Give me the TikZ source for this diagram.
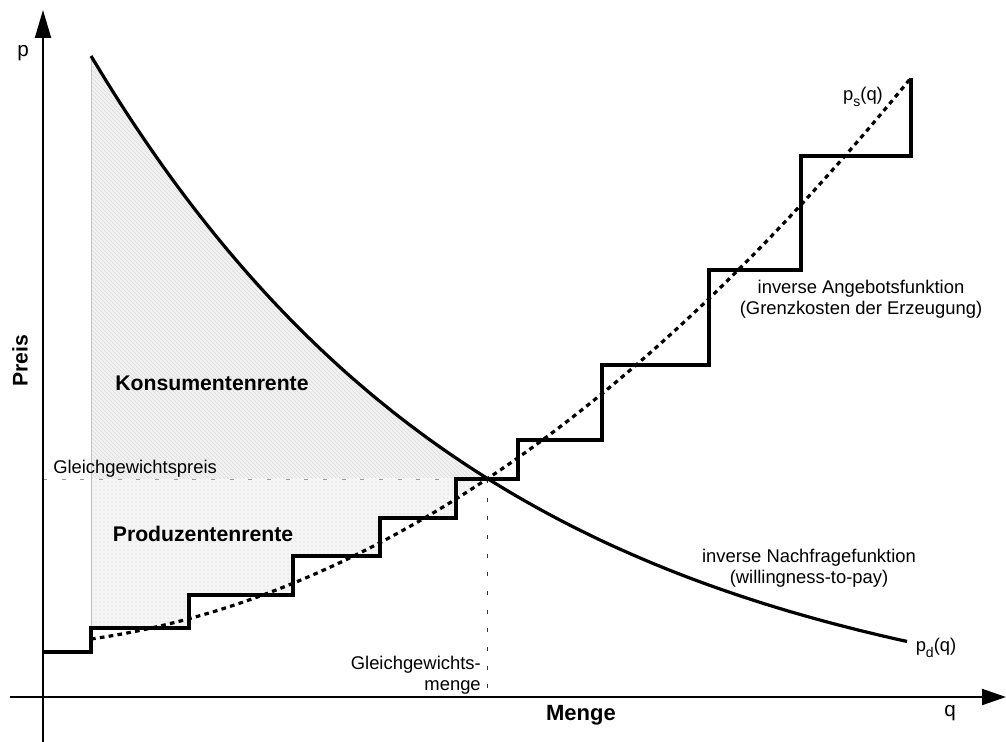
\documentclass[tikz,border=0pt]{standalone}
\usepackage{fontspec}
\setmainfont{Liberation Sans}
\usetikzlibrary{arrows.meta,patterns}
\newcommand{\lowsub}[1]{\raisebox{-0.55ex}{\fontsize{10.5}{10.5}\selectfont #1}}
\begin{document}
\begin{tikzpicture}[x=0.75pt,y=-0.75pt,
  axis/.style={line width=1.5pt},
  curve/.style={line width=2.4pt},
  lbl/.style={font=\fontsize{13.8}{15.5}\selectfont, inner sep=0pt, align=center},
  area/.style={font=\bfseries\fontsize{15.9}{18}\selectfont, inner sep=0pt},
  axlbl/.style={font=\fontsize{15.5}{17}\selectfont, inner sep=0pt},
  guide/.style={line width=0.7pt, dash pattern=on 3pt off 11pt},
  cssurplus/.style={fill=gray!10, postaction={pattern=north west lines, pattern color=gray!28}},
  pssurplus/.style={fill=gray!8, postaction={pattern=dots, pattern color=gray!38}},
]
\useasboundingbox (0,0) rectangle (1006,742);

% key points
\coordinate (E) at (487,479);
\coordinate (Pstar) at (43,479);
\coordinate (Qstar) at (487,697);

% consumer surplus: between demand curve and equilibrium price
\path[cssurplus] (91,479) -- plot[domain=91:487, samples=80] (\x, {730-674*exp(-0.002494*(\x-91))}) -- cycle;

% producer surplus: between equilibrium price and supply steps
\path[pssurplus] (91,479) -- (91,628) -- (189,628) -- (189,595) -- (293,595) -- (293,556)
  -- (380,556) -- (380,518) -- (456,518) -- (456,499) -- (E) -- cycle;
\draw[gray!50, line width=0.4pt] (91,56) -- (91,628);

% equilibrium guides
\draw[guide, gray!80] (Pstar) -- (E);
\draw[guide, black!80] (E) -- (Qstar);

% axes
\draw[axis, -{Triangle[length=21pt,width=12pt]}] (43,742) -- (43,10);
\draw[axis, -{Triangle[length=18pt,width=12pt]}] (10,697) -- (1006,697);

% inverse demand
\draw[curve] plot[domain=91:907, samples=120] (\x, {730-674*exp(-0.002494*(\x-91))});

% smooth inverse supply
\draw[curve, dash pattern=on 3.5pt off 3.2pt] plot[domain=91:911, samples=120]
  (\x, {639-0.1423*(\x-91)-(0.02571*(\x-91))^2});

% stepwise marginal cost
\draw[curve, line join=miter] (43,652) -- (91,652) -- (91,628) -- (189,628) -- (189,595)
  -- (293,595) -- (293,556) -- (380,556) -- (380,518) -- (456,518) -- (456,479)
  -- (518,479) -- (518,440) -- (602,440) -- (602,365) -- (709,365) -- (709,270)
  -- (801,270) -- (801,156) -- (911,156) -- (911,78);

% labels
\node[axlbl] (plbl) at (23,53) {p};
\node[axlbl] (qlbl) at (950,713) {q};
\node[area, rotate=90] (preis) at (20,361) {Preis};
\node[area, font=\bfseries\fontsize{16.5}{18}\selectfont] (menge) at (581,715) {Menge};
\node[area] (ks) at (212,383) {Konsumentenrente};
\node[area] (prs) at (203,534) {Produzentenrente};
\node[lbl, anchor=west] (gp) at (53,469) {Gleichgewichtspreis};
\node[lbl, anchor=east, align=right] (gm) at (481,675) {Gleichgewichts-\\menge};
\node[lbl] (ang) at (861,299) {inverse Angebotsfunktion\\(Grenzkosten der Erzeugung)};
\node[lbl] (nach) at (809,568) {inverse Nachfragefunktion\\(willingness-to-pay)};
\node[lbl] (psq) at (863,97) {p\lowsub{s}(q)};
\node[lbl] (pdq) at (936,648) {p\lowsub{d}(q)};
\end{tikzpicture}
\end{document}
